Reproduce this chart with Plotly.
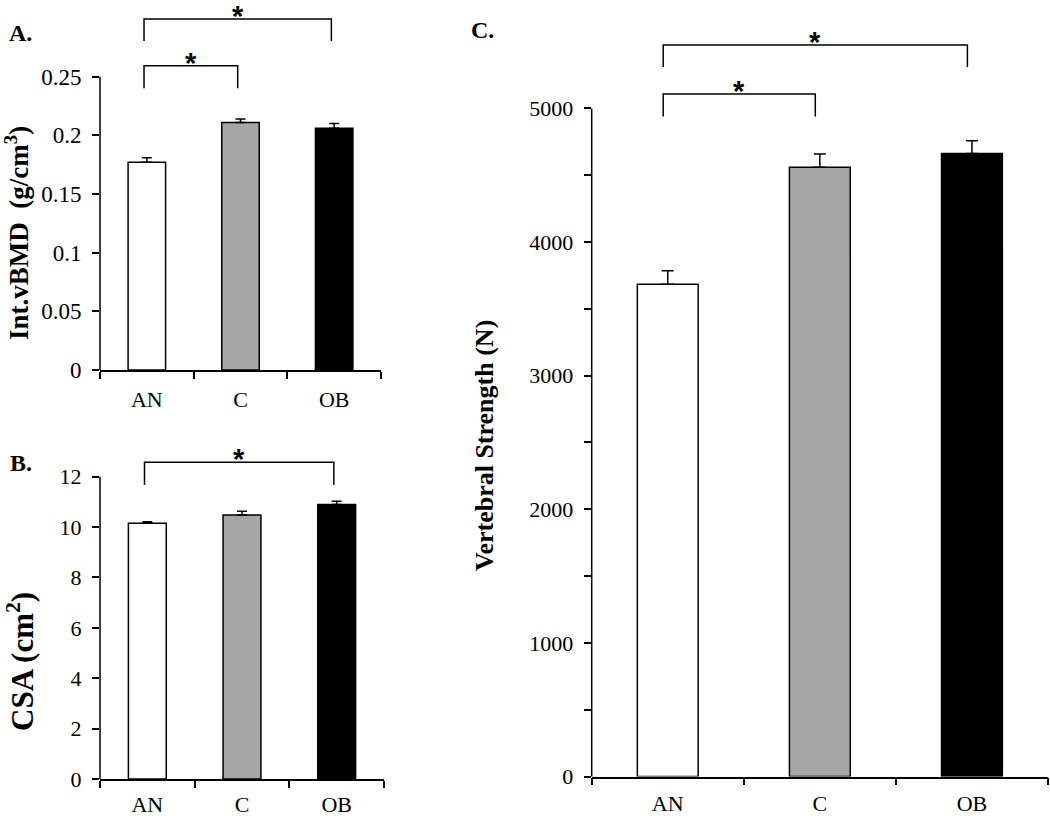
import plotly.graph_objects as go

# ---------------- data ----------------
categories = ["AN", "C", "OB"]
bar_colors = ["#ffffff", "#a6a6a6", "#000000"]

vbmd = [0.177, 0.211, 0.206]
vbmd_err = [0.004, 0.003, 0.004]
vbmd_ticks = [0, 0.05, 0.1, 0.15, 0.2, 0.25]
vbmd_ticktext = ["0", "0.05", "0.1", "0.15", "0.2", "0.25"]

csa = [10.15, 10.48, 10.90]
csa_err = [0.06, 0.15, 0.13]
csa_ticks = [0, 2, 4, 6, 8, 10, 12]
csa_ticktext = ["0", "2", "4", "6", "8", "10", "12"]

strength = [3685, 4560, 4662]
strength_err = [100, 100, 97]
strength_ticks = [0, 1000, 2000, 3000, 4000, 5000]
strength_ticktext = ["0", "1000", "2000", "3000", "4000", "5000"]
strength_minor_ticks = [500, 1500, 2500, 3500, 4500]

# significance brackets: (from index, to index, top value, leg end value)
brackets_A = [(0, 1, 0.2594, 0.2401), (0, 2, 0.2992, 0.2805)]
brackets_B = [(0, 2, 12.57, 11.67)]
brackets_C = [(0, 1, 5108, 4939), (0, 2, 5475, 5311)]

W, H = 1050, 816
SERIF = "Liberation Serif, Times New Roman, serif"


def clamp(v):
    return max(0.0, min(1.0, v))


def px_x(p):
    return clamp(p / W)


def px_y(p):
    return clamp(1 - p / H)


fig = go.Figure()

panels = [
    dict(x="x", y="y", vals=vbmd, err=vbmd_err, cap=5, yfs=23, xstand=9,
         xdom=[px_x(100), px_x(381)], ydom=[px_y(370), px_y(18)], rng=[0, 0.30],
         ticks=vbmd_ticks, ticktext=vbmd_ticktext, minor=None, brackets=brackets_A),
    dict(x="x2", y="y2", vals=csa, err=csa_err, cap=5, yfs=22, xstand=5,
         xdom=[px_x(100), px_x(384)], ydom=[px_y(779), px_y(451.5)], rng=[0, 13],
         ticks=csa_ticks, ticktext=csa_ticktext, minor=None, brackets=brackets_B),
    dict(x="x3", y="y3", vals=strength, err=strength_err, cap=6, yfs=22, xstand=6,
         xdom=[px_x(591.7), px_x(1048)], ydom=[px_y(776.5), px_y(28.3)], rng=[0, 5600],
         ticks=strength_ticks, ticktext=strength_ticktext, minor=strength_minor_ticks,
         brackets=brackets_C),
]

shapes = []
annotations = []

for i, p in enumerate(panels):
    fig.add_trace(go.Bar(
        x=categories, y=p["vals"], xaxis=p["x"], yaxis=p["y"],
        width=0.4,
        marker=dict(color=bar_colors, line=dict(color="black", width=1.5)),
        error_y=dict(type="data", symmetric=False, array=p["err"],
                     arrayminus=[0] * len(p["err"]),
                     color="black", thickness=1.5, width=p["cap"]),
        showlegend=False, hoverinfo="skip",
    ))
    sfx = "" if i == 0 else str(i + 1)
    yax = dict(
        domain=p["ydom"], anchor=p["x"], range=p["rng"],
        tickvals=p["ticks"], ticktext=p["ticktext"],
        ticks="outside", ticklen=7, tickwidth=1.5, tickcolor="black",
        showline=False, showgrid=False, zeroline=False, automargin=False,
        tickfont=dict(family=SERIF, size=p["yfs"], color="black"),
        ticklabelstandoff=6,
    )
    if p["minor"] is not None:
        yax["minor"] = dict(tickvals=p["minor"], ticks="outside", ticklen=7,
                            tickwidth=1.5, tickcolor="black", showgrid=False)
    fig.update_layout(**{
        "xaxis" + sfx: dict(
            domain=p["xdom"], anchor=p["y"], type="category",
            range=[-0.5, 2.5], tickson="boundaries", ticks="outside",
            ticklen=7, tickwidth=1.5, tickcolor="black",
            showline=True, linecolor="black", linewidth=1.5,
            showgrid=False, zeroline=False, automargin=False,
            tickfont=dict(family=SERIF, size=22, color="black"),
            ticklabelstandoff=p["xstand"],
        ),
        "yaxis" + sfx: yax,
    })
    # y-axis line only up to the top tick
    shapes.append(dict(type="line", xref=p["x"] + " domain", yref=p["y"] + " domain",
                       x0=0, x1=0, y0=0, y1=p["ticks"][-1] / p["rng"][1],
                       line=dict(color="black", width=1.5)))
    # significance brackets
    for (a, b, top, leg) in p["brackets"]:
        xa, xb = a - 0.03, b - 0.03
        shapes.append(dict(type="path", xref=p["x"], yref=p["y"],
                           path=f"M {xa},{leg} L {xa},{top} L {xb},{top} L {xb},{leg}",
                           line=dict(color="black", width=1.5)))
        annotations.append(dict(x=(xa + xb) / 2, y=top, xref=p["x"], yref=p["y"],
                                text="<b>*</b>", showarrow=False,
                                xanchor="center", yanchor="middle", yshift=3,
                                font=dict(family="Liberation Sans, Arial, sans-serif",
                                          size=29, color="black")))

# axis titles
annotations += [
    dict(x=px_x(17), y=px_y(233), xref="paper", yref="paper", textangle=-90,
         xanchor="center", yanchor="middle",
         text="<b>Int.vBMD\u00a0\u00a0(g/cm<sup>3</sup>)</b>", showarrow=False,
         font=dict(family=SERIF, size=27, color="black")),
    dict(x=px_x(20), y=px_y(662), xref="paper", yref="paper", textangle=-90,
         xanchor="center", yanchor="middle",
         text="<b>CSA (cm<sup>2</sup>)</b>", showarrow=False,
         font=dict(family=SERIF, size=31, color="black")),
    dict(x=px_x(485), y=px_y(446), xref="paper", yref="paper", textangle=-90,
         xanchor="center", yanchor="middle",
         text="<b>Vertebral Strength (N)</b>", showarrow=False,
         font=dict(family=SERIF, size=26, color="black")),
]
# panel letters
for lbl, x, y in [("A.", 20, 33), ("B.", 21, 463), ("C.", 482, 30)]:
    annotations.append(dict(x=px_x(x), y=px_y(y), xref="paper", yref="paper",
                            xanchor="center", yanchor="middle",
                            text=f"<b>{lbl}</b>", showarrow=False,
                            font=dict(family=SERIF, size=24, color="black")))

fig.update_layout(
    width=W, height=H, autosize=False,
    margin=dict(l=0, r=0, t=0, b=0, pad=0),
    paper_bgcolor="white", plot_bgcolor="white",
    shapes=shapes, annotations=annotations,
    bargap=0.6,
)

fig.write_html(
    "out.html",
    config={"displayModeBar": False},
    post_script="document.body.style.margin='0';document.body.style.overflow='hidden';",
)
